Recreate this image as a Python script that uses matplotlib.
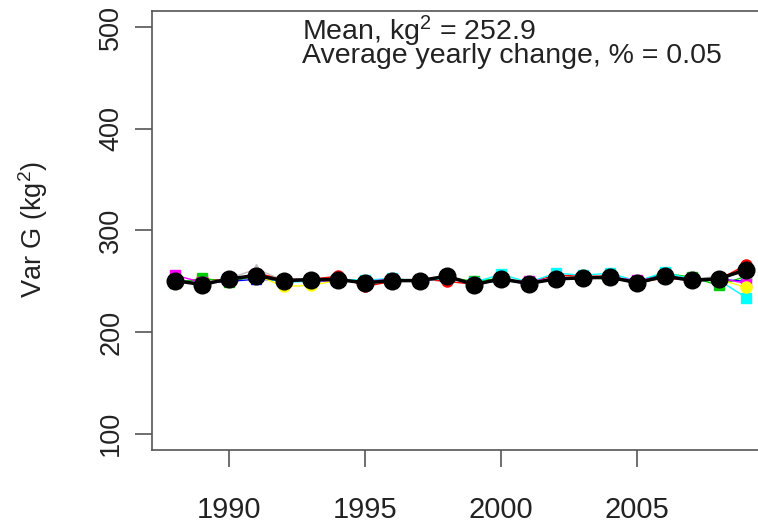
import matplotlib
matplotlib.use('Agg')
import matplotlib.pyplot as plt

plt.rcParams['font.family'] = ['Liberation Sans', 'DejaVu Sans']
plt.rcParams['mathtext.fontset'] = 'custom'
plt.rcParams['mathtext.rm'] = 'Liberation Sans'
plt.rcParams['mathtext.it'] = 'Liberation Sans:italic'

# data
years = list(range(1988, 2010))
mean_var = [250.7, 246.8, 252.4, 255.7, 250.7, 251.7, 251.7, 248.5, 250.7, 250.7, 255.0,
            246.8, 252.4, 247.8, 252.4, 253.4, 254.0, 248.5, 255.0, 251.0, 252.4, 261.6]
red = [249, 252, 251, 258, 252, 252, 255, 245, 250, 252, 250, 247, 252, 249, 256, 255, 255, 249, 253, 251, 252, 266]
green = [248, 253, 249, 256, 250, 251, 252, 249, 251, 251, 254, 250, 253, 248, 252, 254, 252, 250, 258, 254, 246, 255]
blue = [251, 248, 250, 252, 251, 250, 251, 249, 250, 250, 254, 247, 251, 248, 252, 253, 253, 249, 257, 250, 252, 250]
cyan = [252, 247, 252, 255, 249, 250, 252, 251, 253, 250, 253, 249, 257, 249, 258, 256, 258, 250, 259, 252, 251, 234]
magenta = [256, 249, 251, 257, 250, 251, 250, 250, 252, 249, 255, 248, 251, 250, 253, 254, 254, 251, 255, 251, 253, 248]
yellow = [250, 247, 252, 256, 245, 246, 251, 248, 250, 251, 255, 247, 252, 248, 253, 254, 253, 248, 254, 251, 252, 244]
gray = [251, 248, 253, 262, 251, 253, 252, 249, 251, 251, 256, 247, 253, 248, 253, 253, 255, 249, 256, 252, 255, 258]
series = [red, green, blue, cyan, magenta, yellow, gray]
colors = ['#FF0000', '#00CD00', '#0000FF', '#00FFFF', '#FF00FF', '#FFFF00', '#BEBEBE']
markers = ['o', 's', '^', 's', 's', 'o', '^']
mean_kg2 = 252.9
yearly_change = 0.05

fig = plt.figure(figsize=(7.58, 5.25), dpi=100)
# the original is cropped on the right, so the axes run past the edge
ax = fig.add_axes([152/758, 75/525, 617/758, 439/525])

for s, c, m in zip(series, colors, markers):
    ax.plot(years, s, color=c, marker=m, markersize=8 if m == 'o' else 7, linewidth=1)
ax.plot(years, mean_var, color='black', marker='o', markersize=12, linewidth=2.5)

ax.set_xlim(1987.16, 2009.84)
ax.set_ylim(84, 516)
ax.set_xticks([1990, 1995, 2000, 2005])
ax.set_yticks([100, 200, 300, 400, 500])
ax.tick_params(axis='both', direction='out', length=12, width=1.2, colors='#555555',
               labelcolor='#222222')
ax.tick_params(axis='x', pad=21, labelsize=21)
ax.tick_params(axis='y', pad=8, labelsize=19.5)
for lab in ax.get_yticklabels():
    lab.set_rotation(90)
    lab.set_va('center')
for sp in ax.spines.values():
    sp.set_color('#555555')
    sp.set_linewidth(1.2)

fig.text(33/758, 0.562, 'Var G (kg$^2$)', rotation=90, ha='center', va='center',
         fontsize=19.5, color='#222222')

# two tightly packed lines, as in the original
note = 'Mean, kg$^2$ = %.1f\nAverage yearly change, %% = %.2f' % (mean_kg2, yearly_change)
ax.text(0.243, 0.8815, note, transform=ax.transAxes, va='baseline', ha='left',
        fontsize=20.5, color='#222222', linespacing=0.68)

fig.savefig('out.png', dpi=100)
